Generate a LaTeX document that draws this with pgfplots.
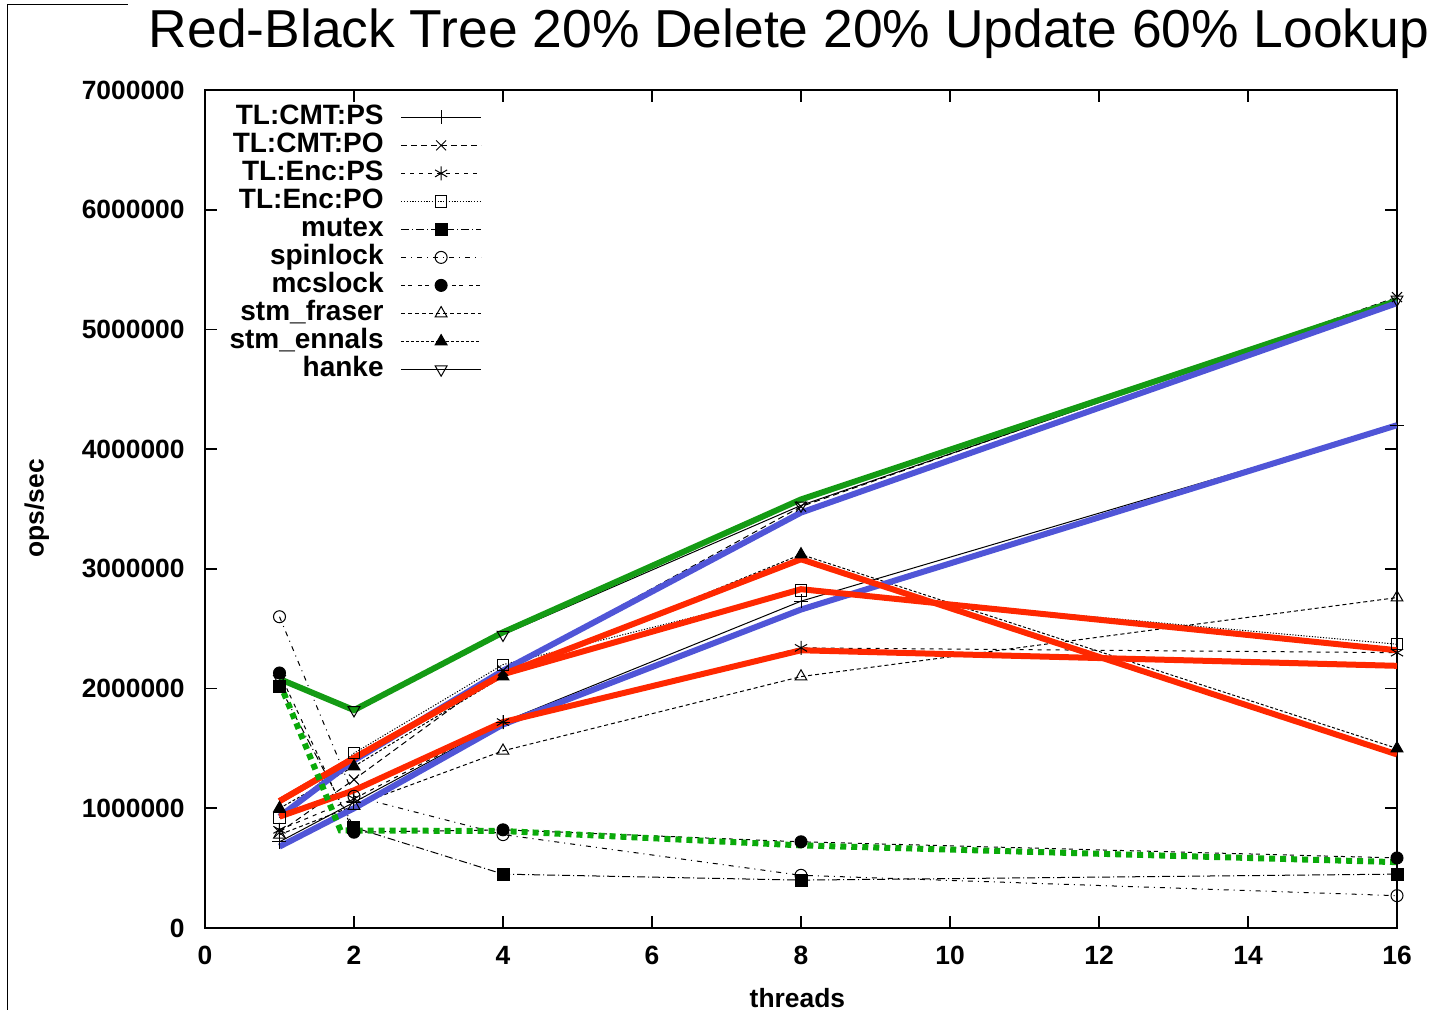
\documentclass[border=0pt]{standalone}
\usepackage{pgfplots}
\pgfplotsset{compat=1.18}
\usepackage{fontspec}
\setmainfont{Liberation Sans}
\definecolor{mgreen}{RGB}{20,155,20}
\definecolor{mdgreen}{RGB}{10,170,10}
\definecolor{mblue}{RGB}{80,85,215}
\definecolor{mred}{RGB}{255,40,0}
\begin{document}
\begin{tikzpicture}
\useasboundingbox (-102.5pt,-41pt) rectangle (615pt,464pt);
\draw[line width=0.5pt] (-98.5pt,-41pt) -- (-98.5pt,461.5pt) -- (-38.5pt,461.5pt);
\begin{axis}[
  at={(0,0)}, anchor=south west,
  scale only axis, width=596pt, height=419pt,
  xmin=0, xmax=16, ymin=0, ymax=7000000,
  xtick={0,2,4,6,8,10,12,14,16},
  ytick={0,1000000,2000000,3000000,4000000,5000000,6000000,7000000},
  scaled y ticks=false,
  tick pos=both, tick align=inside,
  major tick length=6pt,
  every tick/.style={line width=0.8pt, black},
  axis line style={line width=1pt},
  /pgf/number format/assume math mode=true,
  yticklabel style={/pgf/number format/fixed, /pgf/number format/1000 sep={}, inner sep=0pt, xshift=-10pt, font=\bfseries\fontsize{13.2}{15}\selectfont},
  xticklabel style={inner sep=0pt, yshift=-9pt, font=\bfseries\fontsize{13.2}{15}\selectfont},
  xlabel={threads},
  ylabel={ops/sec},
  xlabel style={at={(axis description cs:0.497,0)}, anchor=north, yshift=-30pt, inner sep=0pt, font=\bfseries\fontsize{13.2}{15}\selectfont},
  ylabel style={at={(axis description cs:-0.141,0.501)}, anchor=center, inner sep=0pt, font=\bfseries\fontsize{13.2}{15}\selectfont},
  title={Red-Black Tree 20\% Delete 20\% Update 60\% Lookup},
  title style={at={(axis description cs:0.49,1.0513)}, anchor=base, yshift=-6pt, inner sep=0pt, font=\fontsize{26.7}{30}\selectfont},
  legend cell align=right,
  legend plot pos=right,
  legend style={at={(axis description cs:0.2324,0.9845)}, anchor=north east, draw=none, fill=none, inner sep=0pt, row sep=0pt, column sep=8.5pt,
    nodes={inner sep=0pt, text height=10.5pt, text depth=3.5pt, font=\bfseries\fontsize{14}{16}\selectfont}},
  legend image code/.code={\draw[mark repeat=2,mark phase=2] plot coordinates {(0pt,0pt) (20pt,0pt) (40pt,0pt)};},
  every axis plot/.append style={black, line width=0.5pt, mark size=3pt, mark options={solid, line width=0.5pt}},
]
% TL:CMT:PS
\addplot[solid, mark=+, mark size=3.5pt] coordinates {(1,720000) (2,1050000) (4,1720000) (8,2730000) (16,4200000)};
\addlegendentry{TL:CMT:PS}
% TL:CMT:PO
\addplot[dash pattern=on 3pt off 2pt, mark=x, mark size=3.5pt] coordinates {(1,800000) (2,1240000) (4,2150000) (8,3520000) (16,5270000)};
\addlegendentry{TL:CMT:PO}
% TL:Enc:PS
\addplot[dash pattern=on 2pt off 2.5pt, mark=asterisk, mark size=3.5pt] coordinates {(1,820000) (2,1080000) (4,1720000) (8,2340000) (16,2300000)};
\addlegendentry{TL:Enc:PS}
% TL:Enc:PO
\addplot[dash pattern=on 0.6pt off 0.8pt, mark=square, mark size=2.8pt] coordinates {(1,920000) (2,1460000) (4,2200000) (8,2820000) (16,2370000)};
\addlegendentry{TL:Enc:PO}
% mutex
\addplot[dash pattern=on 4pt off 1.5pt on 0.5pt off 1.5pt, mark=square*, mark size=3pt] coordinates {(1,2020000) (2,840000) (4,450000) (8,400000) (16,450000)};
\addlegendentry{mutex}
% spinlock
\addplot[dash pattern=on 2.5pt off 2.5pt on 0.5pt off 2.5pt, mark=o, mark size=3pt] coordinates {(1,2600000) (2,1100000) (4,780000) (8,440000) (16,270000)};
\addlegendentry{spinlock}
% mcslock
\addplot[dash pattern=on 2pt off 1.5pt on 2pt off 3pt, mark=*, mark size=3pt] coordinates {(1,2130000) (2,800000) (4,820000) (8,720000) (16,585000)};
\addlegendentry{mcslock}
% stm_fraser
\addplot[dash pattern=on 2pt off 1.5pt, mark=triangle, mark size=3.4pt] coordinates {(1,780000) (2,1020000) (4,1480000) (8,2100000) (16,2760000)};
\addlegendentry{stm\_fraser}
% stm_ennals
\addplot[dash pattern=on 1.5pt off 1pt, mark=triangle*, mark size=3.4pt] coordinates {(1,1000000) (2,1350000) (4,2100000) (8,3120000) (16,1500000)};
\addlegendentry{stm\_ennals}
% hanke
\addplot[solid, mark=triangle, mark size=3.4pt, mark options={rotate=180}] coordinates {(1,2080000) (2,1820000) (4,2450000) (8,3530000) (16,5250000)};
\addlegendentry{hanke}
% highlight overlays
\addplot[forget plot, mgreen, line width=3pt, mark=none] coordinates {(1,2080000) (2,1820000) (4,2470000) (8,3580000) (16,5240000)};
\addplot[forget plot, mblue, line width=3pt, mark=none] coordinates {(1,930000) (2,1400000) (4,2150000) (8,3470000) (16,5220000)};
\addplot[forget plot, mblue, line width=3pt, mark=none] coordinates {(1,680000) (2,1000000) (4,1700000) (8,2660000) (16,4200000)};
\addplot[forget plot, mred, line width=3pt, mark=none] coordinates {(1,1060000) (2,1420000) (4,2120000) (8,3080000) (16,1450000)};
\addplot[forget plot, mred, line width=3pt, mark=none] coordinates {(1,1060000) (2,1420000) (4,2120000) (8,2830000) (16,2320000)};
\addplot[forget plot, mred, line width=3pt, mark=none] coordinates {(1,930000) (2,1150000) (4,1720000) (8,2320000) (16,2190000)};
\addplot[forget plot, mdgreen, line width=3pt, dash pattern=on 3pt off 2.5pt, mark=none] coordinates {(1,2050000) (1.82,815000) (4,810000) (8,690000) (16,550000)};
\end{axis}
\end{tikzpicture}
\end{document}
